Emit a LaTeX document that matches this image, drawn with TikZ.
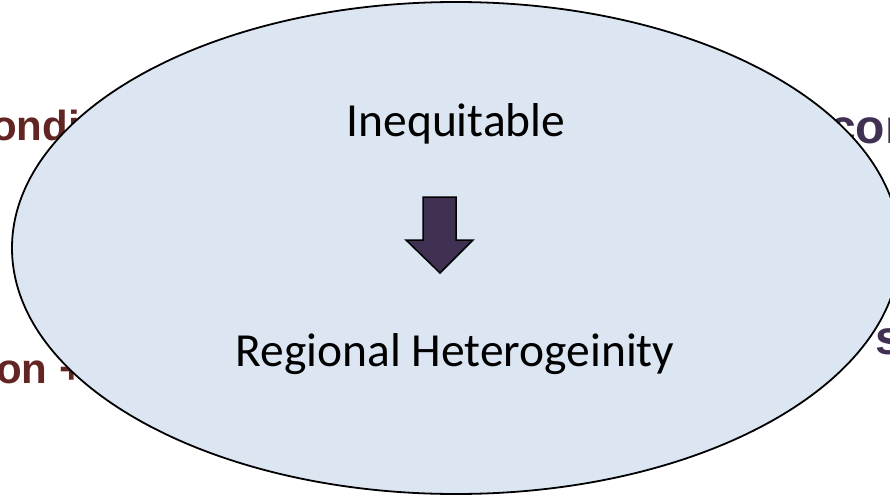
\documentclass[tikz,border=0pt]{standalone}
\usepackage{fontspec}
\setmainfont{Carlito}
\newfontfamily\backfont{Liberation Sans}
\usepackage{tikz}

\definecolor{ovalfill}{HTML}{DCE6F2}
\definecolor{arrowfill}{HTML}{403152}
\definecolor{backred}{HTML}{632523}
\definecolor{backpurple}{HTML}{403152}

\tikzset{
  backtext/.style={anchor=base west,inner sep=0pt,font=\backfont\bfseries\fontsize{42}{48}\selectfont},
  maintext/.style={anchor=base,inner sep=0pt,font=\fontsize{47.5}{54}\selectfont}
}

\begin{document}
\begin{tikzpicture}[x=1pt,y=-1pt]
  \useasboundingbox (0,0) rectangle (890,497);
  \clip (0,0) rectangle (890,497);

  \node[backtext,text=backred] (condit) at (-9,141) {ondit};
  \node[backtext,text=backred] (conplus) at (-4,383) {on +};
  \node[backtext,text=backpurple,font=\backfont\bfseries\fontsize{48}{54}\selectfont] (cor) at (829,143) {con};
  \node[backtext,text=backpurple,font=\backfont\bfseries\fontsize{48}{54}\selectfont] (rs) at (875,354) {s};

  \draw[line width=1.8pt,fill=ovalfill] (456,248) ellipse (444 and 246);

  \node[maintext] (ineq) at (456,137) {Inequitable};
  \node[maintext] (hetero) at (455,366) {Regional Heterogeinity};

  \draw[line width=1.5pt,fill=arrowfill,line join=miter]
    (423,197) -- (456,197) -- (456,240) -- (473,240) -- (440,273)
    -- (406,240) -- (423,240) -- cycle;
\end{tikzpicture}
\end{document}
